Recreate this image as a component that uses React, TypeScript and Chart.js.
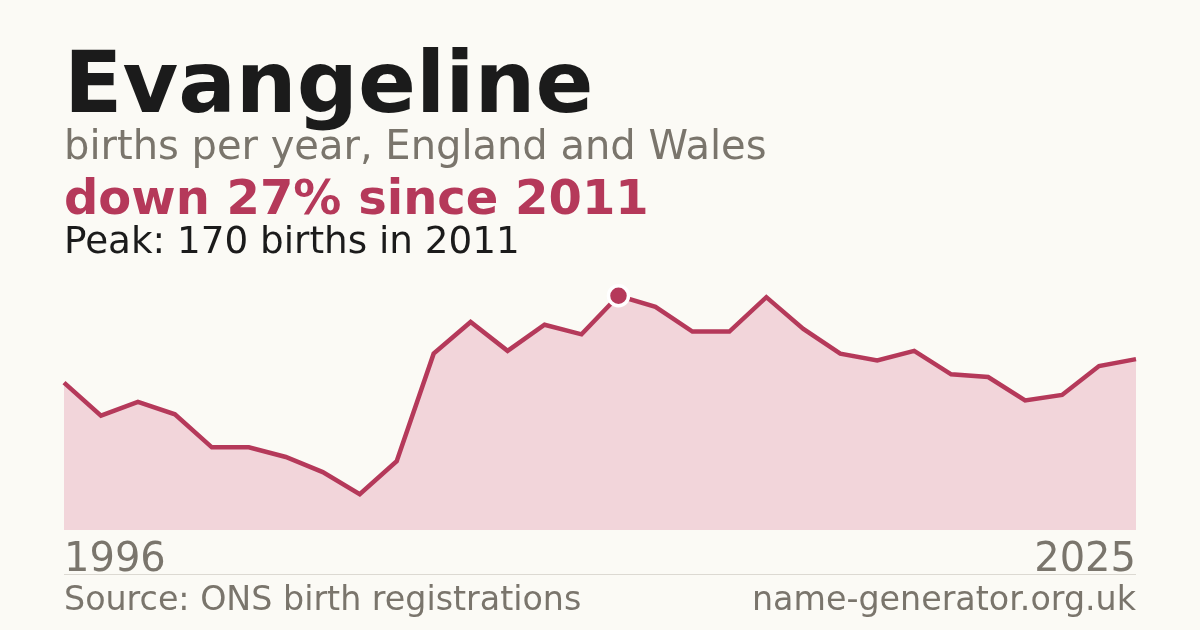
import React, { useEffect, useRef } from "react";
import { Chart, registerables } from "chart.js";

Chart.register(...registerables);

const years = [
  1996, 1997, 1998, 1999, 2000, 2001, 2002, 2003, 2004, 2005,
  2006, 2007, 2008, 2009, 2010, 2011, 2012, 2013, 2014, 2015,
  2016, 2017, 2018, 2019, 2020, 2021, 2022, 2023, 2024, 2025,
];
const births = [
  107, 83, 93, 84, 60, 60, 53, 42, 26, 50,
  128, 151, 130, 149, 142, 170, 162, 144, 144, 169,
  146, 128, 123, 130, 113, 111, 94, 98, 119, 124,
];
const peakYear = 2011;

const bg = "#fbfaf5";
const red = "#b5395a";
const fill = "#f2d5da";
const grey = "#7a756c";
const font = "'DejaVu Sans', sans-serif";

const peakIdx = years.indexOf(peakYear);

export default function App() {
  const canvasRef = useRef<HTMLCanvasElement | null>(null);
  const chartRef = useRef<Chart | null>(null);

  useEffect(() => {
    if (!canvasRef.current) return;
    chartRef.current = new Chart(canvasRef.current, {
      type: "line",
      data: {
        labels: years.map(String),
        datasets: [
          {
            data: births,
            borderColor: red,
            borderWidth: 4.5,
            backgroundColor: fill,
            fill: "origin",
            tension: 0,
            pointRadius: births.map((_, i) => (i === peakIdx ? 10 : 0)),
            pointBorderWidth: 3.5,
            pointBackgroundColor: red,
            pointBorderColor: "#ffffff",
            clip: false,
          },
        ],
      },
      options: {
        animation: false,
        responsive: false,
        maintainAspectRatio: false,
        layout: { padding: { left: 64, right: 64, top: 282, bottom: 100 } },
        plugins: { legend: { display: false }, tooltip: { enabled: false } },
        scales: {
          x: { display: false, offset: false },
          y: { display: false, min: 0, max: 180 },
        },
      },
    });
    return () => {
      chartRef.current?.destroy();
    };
  }, []);

  const text = (top: number, size: number, color: string, weight = 400): React.CSSProperties => ({
    position: "absolute",
    top,
    left: 64,
    fontSize: size,
    lineHeight: 1,
    color,
    fontWeight: weight,
    whiteSpace: "nowrap",
  });

  return (
    <div style={{ position: "fixed", inset: 0, width: 1200, height: 630, background: bg, fontFamily: font, overflow: "hidden" }}>
      <canvas ref={canvasRef} width={1200} height={630} style={{ position: "absolute", left: 0, top: 0 }} />
      <div style={text(39.6, 85.5, "#1b1b1b", 700)}>Evangeline</div>
      <div style={text(125, 40, grey)}>births per year, England and Wales</div>
      <div style={text(173.4, 48, red, 700)}>down 27% since 2011</div>
      <div style={text(221.5, 37.3, "#1b1b1b")}>Peak: 170 births in 2011</div>
      <div style={text(537, 40, grey)}>{years[0]}</div>
      <div style={{ ...text(537, 40, grey), left: undefined, right: 64 }}>{years[years.length - 1]}</div>
      <div style={{ position: "absolute", left: 64, right: 64, top: 574, height: 1, background: "#dcd9d2" }} />
      <div style={text(581.8, 33.3, grey)}>Source: ONS birth registrations</div>
      <div style={{ ...text(581.8, 33.3, grey), left: undefined, right: 64 }}>name-generator.org.uk</div>
    </div>
  );
}
